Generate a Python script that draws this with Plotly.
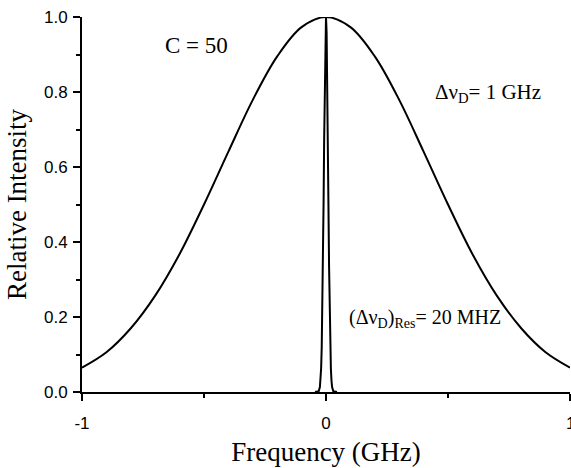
import plotly.graph_objects as go

# Broad Doppler profile, GHz vs relative intensity
broad_x = [-1.0, -0.9, -0.8, -0.7, -0.6, -0.5, -0.4, -0.3, -0.2, -0.1, 0.0,
           0.1, 0.2, 0.3, 0.4, 0.5, 0.6, 0.7, 0.8, 0.9, 1.0]
broad_y = [0.065, 0.106, 0.170, 0.257, 0.368, 0.500, 0.641, 0.779, 0.895, 0.973, 1.000,
           0.973, 0.895, 0.779, 0.641, 0.500, 0.368, 0.257, 0.170, 0.106, 0.065]

# Narrow resonant profile
narrow_x = [-0.045, -0.03, -0.025, -0.0225, -0.02, -0.0175, -0.015, -0.0125, -0.01, -0.0075,
            -0.005, -0.0025, 0.0, 0.0025, 0.005, 0.0075, 0.01, 0.0125, 0.015, 0.0175,
            0.02, 0.0225, 0.025, 0.03, 0.045]
narrow_y = [0.0, 0.002, 0.013, 0.030, 0.0625, 0.120, 0.210, 0.338, 0.500, 0.677,
            0.841, 0.958, 1.0, 0.958, 0.841, 0.677, 0.500, 0.338, 0.210, 0.120,
            0.0625, 0.030, 0.013, 0.002, 0.0]

y_ticks = [0.0, 0.2, 0.4, 0.6, 0.8, 1.0]
x_ticks = [-1, 0, 1]
x_ticktext = ["-1", "0", "1"]

serif = "Liberation Serif, Times New Roman, serif"
sans = "Liberation Sans, Arial, sans-serif"

fig = go.Figure()
fig.add_trace(go.Scatter(x=broad_x, y=broad_y, mode="lines",
                         line=dict(color="black", width=2, shape="spline", smoothing=1.0),
                         showlegend=False, hoverinfo="skip"))
fig.add_trace(go.Scatter(x=narrow_x, y=narrow_y, mode="lines",
                         line=dict(color="black", width=2),
                         showlegend=False, hoverinfo="skip"))

fig.update_layout(
    width=571, height=468,
    margin=dict(l=82, r=1, t=17, b=76),
    paper_bgcolor="white", plot_bgcolor="white",
    xaxis=dict(range=[-1, 1], tickvals=x_ticks, ticktext=x_ticktext,
               ticks="outside", ticklen=7, tickwidth=1.5, tickcolor="black",
               ticklabelstandoff=8,
               showline=True, linecolor="black", linewidth=2, showgrid=False, zeroline=False,
               minor=dict(tickvals=[-0.5, 0.5], ticks="outside", ticklen=4, tickwidth=1.5,
                          tickcolor="black", showgrid=False),
               tickfont=dict(family=sans, size=17, color="black"),
               title=dict(text="Frequency (GHz)", font=dict(family=serif, size=27, color="black"),
                          standoff=10)),
    yaxis=dict(range=[0, 1], tickvals=y_ticks, tickformat=".1f",
               ticks="outside", ticklen=7, tickwidth=1.5, tickcolor="black",
               ticklabelstandoff=2,
               showline=True, linecolor="black", linewidth=2, showgrid=False, zeroline=False,
               minor=dict(tickvals=[0.1, 0.3, 0.5, 0.7, 0.9], ticks="outside", ticklen=4,
                          tickwidth=1.5, tickcolor="black", showgrid=False),
               tickfont=dict(family=sans, size=17, color="black"),
               title=dict(text="Relative Intensity", font=dict(family=serif, size=27, color="black"),
                          standoff=10)),
    annotations=[
        dict(x=-0.529, y=0.925, xref="x", yref="y", text="C = 50", showarrow=False,
             font=dict(family=serif, size=23, color="black")),
        dict(x=0.664, y=0.797, xref="x", yref="y", text="Δν<sub>D</sub>= 1 GHz", showarrow=False,
             font=dict(family=serif, size=21, color="black")),
        dict(x=0.406, y=0.195, xref="x", yref="y", text="(Δν<sub>D</sub>)<sub>Res</sub>= 20 MHZ",
             showarrow=False, font=dict(family=serif, size=20, color="black")),
        # right-most tick label, cut by the page edge as in the reference
        dict(x=x_ticks[-1], y=0, xref="x", yref="y", text=x_ticktext[-1], showarrow=False,
             yanchor="middle", xanchor="center", yshift=-31,
             font=dict(family=sans, size=17, color="black")),
    ],
)

fig.write_html("out.html")
